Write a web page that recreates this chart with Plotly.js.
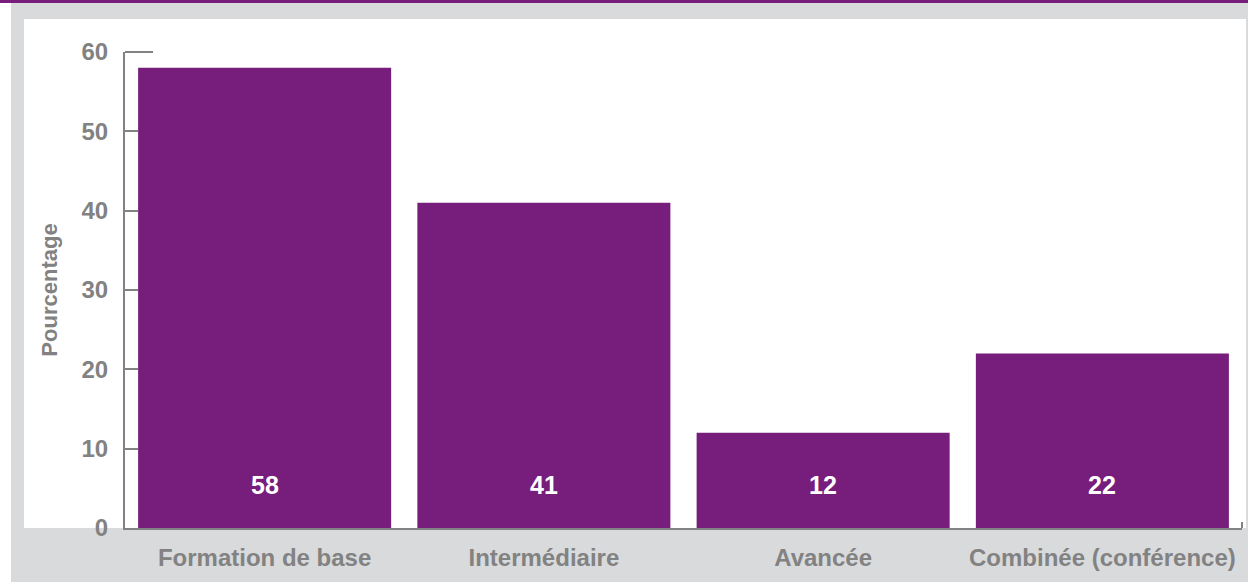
<!DOCTYPE html>
<html>
<head>
<meta charset="utf-8">
<script src="https://cdn.plot.ly/plotly-3.0.1.min.js"></script>
<style>
  html, body { margin: 0; padding: 0; background: #ffffff; width: 1248px; height: 582px; overflow: hidden; }
  #topbar { position: absolute; left: 0; top: 0; width: 1248px; height: 3px; background: #771d7b; }
  #graybg { position: absolute; left: 11px; top: 3px; width: 1237px; height: 579px; background: #d9dadc; }
  #panel { position: absolute; left: 24px; top: 19px; width: 1222px; height: 509px; background: #ffffff; }
  #chart { position: absolute; left: 0; top: 0; width: 1248px; height: 582px; }
</style>
</head>
<body>
<div id="topbar"></div>
<div id="graybg"></div>
<div id="panel"></div>
<div id="chart"></div>
<script>
const categories = ["Formation de base", "Intermédiaire", "Avancée", "Combinée (conférence)"];
const values = [58, 41, 12, 22];
const yTicks = [0, 10, 20, 30, 40, 50, 60];
const yTitle = "Pourcentage";

const purple = "#771d7b";
const gray = "#828282";
const fontFam = "Liberation Sans, Arial, sans-serif";

const trace = {
  type: "bar",
  x: categories,
  y: values,
  marker: { color: purple, line: { width: 0 } },
  hoverinfo: "none"
};

const annotations = categories.map((c, i) => ({
  x: c, y: 0, xref: "x", yref: "y",
  text: String(values[i]),
  showarrow: false,
  yanchor: "middle",
  yshift: 43,
  font: { family: fontFam, size: 25, color: "#ffffff", weight: "bold" }
}));

const layout = {
  width: 1248, height: 582,
  margin: { l: 125, r: 6, t: 52, b: 54, pad: 0 },
  paper_bgcolor: "rgba(0,0,0,0)",
  plot_bgcolor: "rgba(0,0,0,0)",
  showlegend: false,
  bargap: 0.094,
  xaxis: {
    type: "category",
    showline: true, linecolor: gray, linewidth: 2,
    ticks: "", showgrid: false, zeroline: false,
    tickfont: { family: fontFam, size: 24, color: gray, weight: "bold" },
    ticklabelstandoff: 7
  },
  yaxis: {
    range: [0, 60],
    tickvals: yTicks,
    ticktext: yTicks.map(String),
    showline: true, linecolor: gray, linewidth: 2,
    ticks: "inside", ticklen: 13, tickwidth: 2, tickcolor: gray,
    showgrid: false, zeroline: false,
    tickfont: { family: fontFam, size: 24, color: gray, weight: "bold" },
    ticklabelstandoff: 10,
    title: { text: yTitle, font: { family: fontFam, size: 22, color: gray, weight: "bold" }, standoff: 18 }
  },
  annotations: annotations,
  shapes: [
    { type: "line", xref: "paper", yref: "paper", x0: 0, x1: 28 / 1117, y0: 1, y1: 1,
      line: { color: gray, width: 2 } },
    { type: "line", xref: "paper", yref: "paper", x0: 1, x1: 1, y0: 0, y1: 6 / 476,
      line: { color: gray, width: 2 } }
  ]
};

Plotly.newPlot("chart", [trace], layout, { displayModeBar: false, staticPlot: true });
</script>
</body>
</html>
